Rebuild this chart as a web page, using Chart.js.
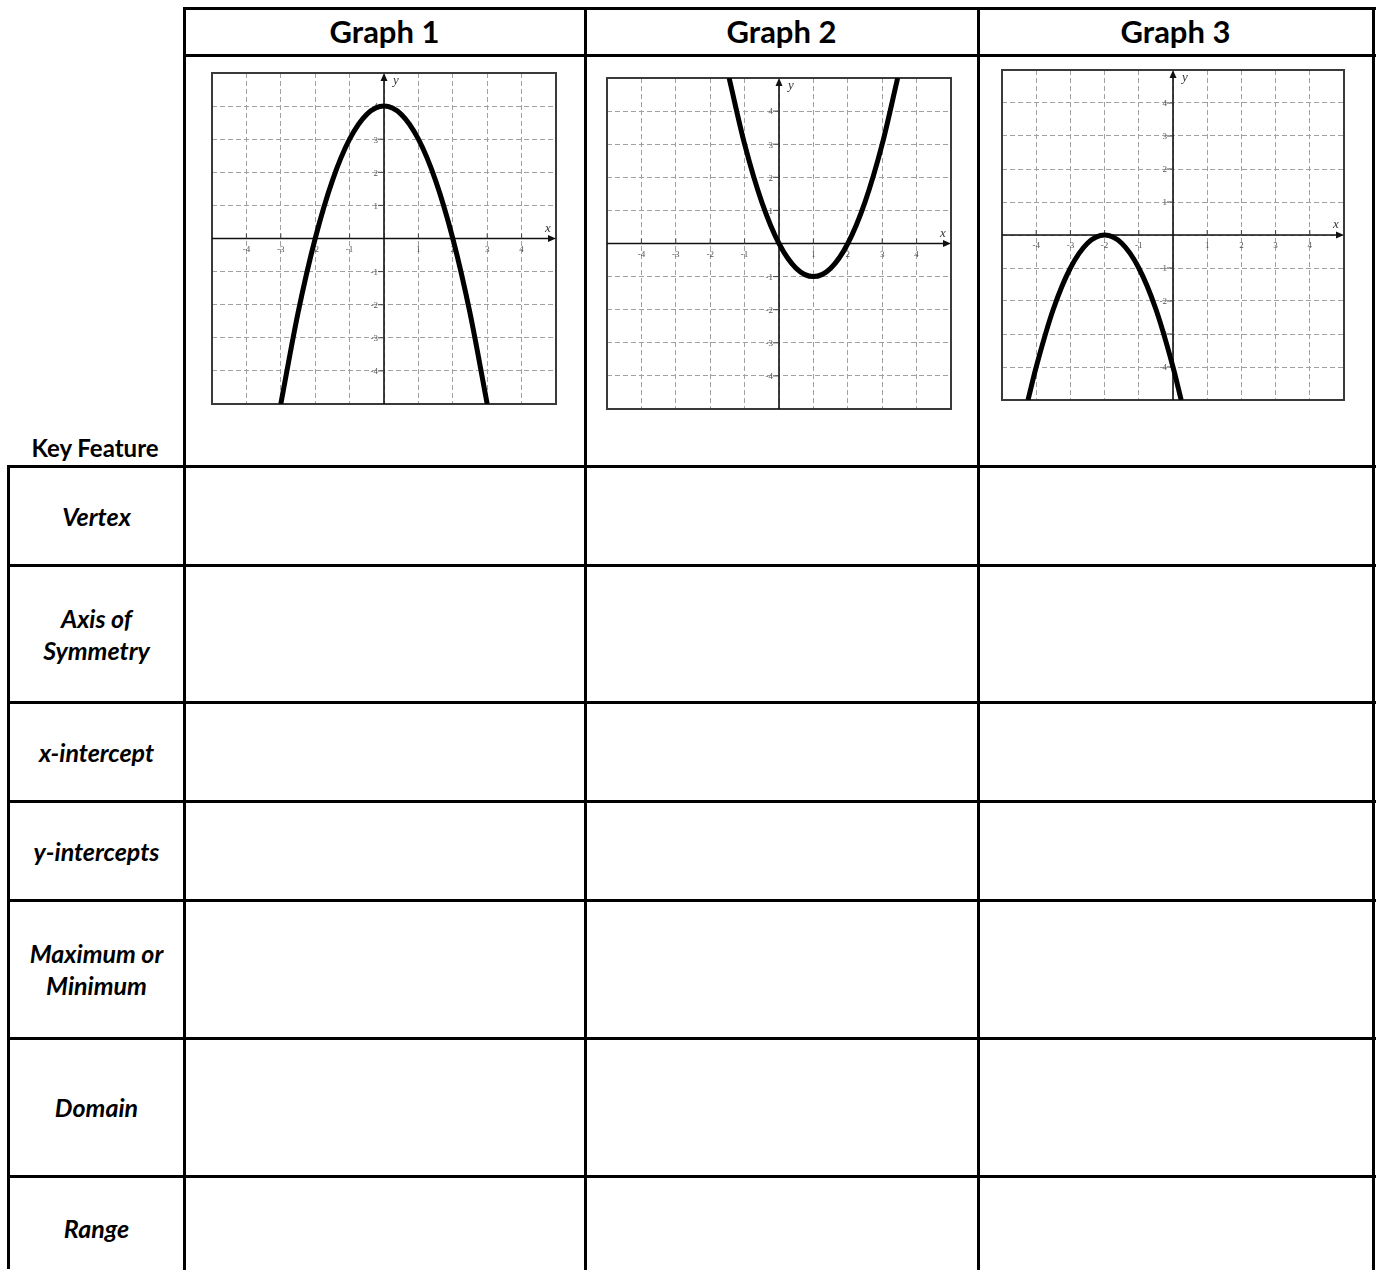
<!DOCTYPE html>
<html>
<head>
<meta charset="utf-8">
<title>Key features of quadratic graphs</title>
<script src="https://cdn.jsdelivr.net/npm/chart.js@4.4.1/dist/chart.umd.min.js"></script>
<style>
  html, body { margin: 0; padding: 0; background: #fff; }
  #page { position: relative; width: 1377px; height: 1270px; overflow: hidden; font-family: Lato, "Open Sans", sans-serif; color: #000; }
  .hl, .vl { position: absolute; background: #000; }
  .hl { height: 3px; }
  .vl { width: 3px; }
  .head { position: absolute; top: 8px; height: 46px; line-height: 46px; text-align: center; font-weight: 700; font-size: 31px; }
  .lbl { position: absolute; left: 9px; width: 175px; display: flex; align-items: center; justify-content: center; text-align: center; font-weight: 700; font-style: italic; font-size: 25px; line-height: 32px; white-space: pre-line; }
  .key { position: absolute; left: 9px; width: 172px; top: 433px; text-align: center; font-weight: 700; font-size: 24px; }
  .plot { position: absolute; }
</style>
</head>
<body>
<div id="page"></div>

<script>
// --- Data ---
const graphTitles = ['Graph 1', 'Graph 2', 'Graph 3'];
const featureLabels = ['Vertex', 'Axis of\nSymmetry', 'x-intercept', 'y-intercepts', 'Maximum or\nMinimum', 'Domain', 'Range'];
const tickValues = [-4, -3, -2, -1, 1, 2, 3, 4];

const graph1X = [-3, -2.5, -2, -1.5, -1, -0.5, 0, 0.5, 1, 1.5, 2, 2.5, 3];
const graph1Y = [-5, -2.25, 0, 1.75, 3, 3.75, 4, 3.75, 3, 1.75, 0, -2.25, -5];
const graph2X = [-1.45, -1, -0.5, 0, 0.5, 1, 1.5, 2, 2.5, 3, 3.45];
const graph2Y = [5, 3, 1.25, 0, -0.75, -1, -0.75, 0, 1.25, 3, 5];
const graph3X = [-4.24, -4, -3.5, -3, -2.5, -2, -1.5, -1, -0.5, 0, 0.24];
const graph3Y = [-5, -4, -2.25, -1, -0.25, 0, -0.25, -1, -2.25, -4, -5];

// --- Table layout ---
const page = document.getElementById('page');
const colLines = [184, 585, 978, 1373];
const rowLines = [466, 565, 702, 801, 900, 1038, 1176];
const PAD = 12;
const plotBoxes = [
    { left: 212, top: 73, width: 344, height: 331 },
    { left: 607, top: 78, width: 344, height: 331 },
    { left: 1002, top: 70, width: 342, height: 330 }
];

function addDiv(cls, style, text) {
    const d = document.createElement('div');
    d.className = cls;
    Object.assign(d.style, style);
    if (text) d.textContent = text;
    page.appendChild(d);
    return d;
}

// horizontal lines
addDiv('hl', { left: '183px', top: '7px', width: '1193px' });
addDiv('hl', { left: '183px', top: '54px', width: '1193px' });
rowLines.forEach(y => addDiv('hl', { left: '7px', top: (y - 1) + 'px', width: '1369px' }));
// vertical lines
addDiv('vl', { left: '7px', top: (rowLines[0] - 1) + 'px', height: (1270 - rowLines[0]) + 'px' });
colLines.forEach(x => addDiv('vl', { left: (x - 1) + 'px', top: '7px', height: '1263px' }));

graphTitles.forEach((t, i) => {
    addDiv('head', { left: colLines[i] + 'px', width: (colLines[i + 1] - colLines[i]) + 'px' }, t);
});

addDiv('key', {}, 'Key Feature');
featureLabels.forEach((t, i) => {
    const top = rowLines[i];
    const bottom = rowLines[i + 1] || 1280;
    addDiv('lbl', { top: (top + 1) + 'px', height: (bottom - top - 2) + 'px' }, t);
});

// --- Axes through the origin, frame, arrows, labels ---
const axesPlugin = {
    id: 'axesThroughOrigin',
    beforeDatasetsDraw(chart) {
        const { ctx, chartArea: a, scales: { x, y } } = chart;
        const x0 = x.getPixelForValue(0);
        const y0 = y.getPixelForValue(0);
        ctx.save();

        ctx.strokeStyle = '#3a3a3a';
        ctx.lineWidth = 2;
        ctx.strokeRect(a.left, a.top, a.right - a.left, a.bottom - a.top);

        ctx.strokeStyle = '#111';
        ctx.lineWidth = 1.6;
        ctx.beginPath();
        ctx.moveTo(a.left, y0); ctx.lineTo(a.right - 4, y0);
        ctx.moveTo(x0, a.bottom); ctx.lineTo(x0, a.top + 4);
        ctx.stroke();

        ctx.fillStyle = '#111';
        ctx.beginPath();
        ctx.moveTo(a.right, y0); ctx.lineTo(a.right - 8, y0 - 3.5); ctx.lineTo(a.right - 8, y0 + 3.5);
        ctx.fill();
        ctx.beginPath();
        ctx.moveTo(x0, a.top); ctx.lineTo(x0 - 3.5, a.top + 8); ctx.lineTo(x0 + 3.5, a.top + 8);
        ctx.fill();

        // small tick marks
        ctx.strokeStyle = '#444';
        ctx.lineWidth = 1;
        ctx.beginPath();
        tickValues.forEach(v => {
            const px = x.getPixelForValue(v);
            ctx.moveTo(px, y0 - 5); ctx.lineTo(px, y0);
            const py = y.getPixelForValue(v);
            ctx.moveTo(x0 - 6, py); ctx.lineTo(x0, py);
        });
        ctx.stroke();

        ctx.fillStyle = '#555';
        ctx.font = '9px "Liberation Serif", serif';
        ctx.textBaseline = 'middle';
        ctx.textAlign = 'center';
        tickValues.forEach(v => ctx.fillText(String(v), x.getPixelForValue(v), y0 + 11));
        ctx.textAlign = 'right';
        tickValues.forEach(v => ctx.fillText(String(v), x0 - 6, y.getPixelForValue(v) + 1));

        ctx.fillStyle = '#333';
        ctx.font = 'italic 13px "Liberation Serif", serif';
        ctx.textAlign = 'center';
        ctx.fillText('x', a.right - 8, y0 - 10);
        ctx.fillText('y', x0 + 12, a.top + 8);
        ctx.restore();
    }
};

function makeGraph(box, xs, ys) {
    const c = document.createElement('canvas');
    c.width = box.width + PAD * 2;
    c.height = box.height + PAD * 2;
    c.className = 'plot';
    c.style.left = (box.left - PAD) + 'px';
    c.style.top = (box.top - PAD) + 'px';
    page.appendChild(c);

    const axis = {
        type: 'linear', min: -5, max: 5,
        ticks: { display: false, stepSize: 1 },
        grid: { color: '#a0a0a0', lineWidth: 1, drawTicks: false },
        border: { display: false, dash: [5, 3] }
    };

    new Chart(c.getContext('2d'), {
        type: 'line',
        data: {
            datasets: [{
                data: xs.map((v, i) => ({ x: v, y: ys[i] })),
                borderColor: '#000',
                borderWidth: 5,
                pointRadius: 0,
                fill: false,
                cubicInterpolationMode: 'monotone',
                clip: 0
            }]
        },
        options: {
            responsive: false,
            animation: false,
            events: [],
            layout: { padding: PAD },
            plugins: { legend: { display: false }, tooltip: { enabled: false } },
            scales: { x: axis, y: JSON.parse(JSON.stringify(axis)) }
        },
        plugins: [axesPlugin]
    });
}

makeGraph(plotBoxes[0], graph1X, graph1Y);
makeGraph(plotBoxes[1], graph2X, graph2Y);
makeGraph(plotBoxes[2], graph3X, graph3Y);
</script>
</body>
</html>
